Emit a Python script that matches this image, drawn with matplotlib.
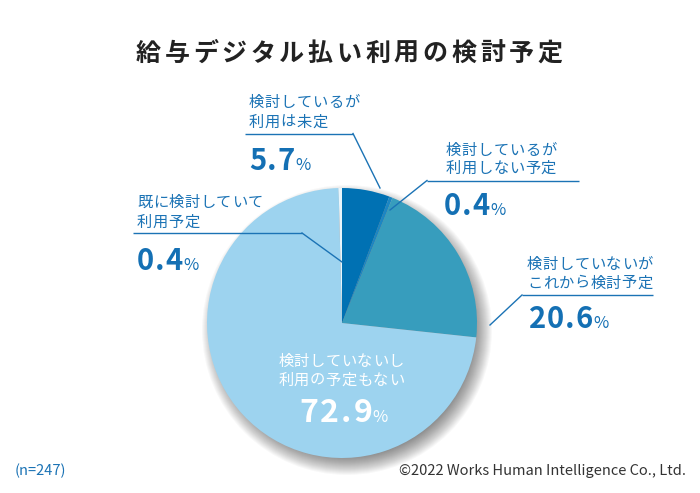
import matplotlib
matplotlib.use("Agg")
import matplotlib.pyplot as plt
from matplotlib.patches import Circle
from matplotlib import font_manager, ft2font

plt.rcParams['font.family'] = ['Noto Sans CJK JP', 'DejaVu Sans']

title = '給与デジタル払い利用の検討予定'
labels = ['検討しているが\n利用は未定', '検討しているが\n利用しない予定',
          '検討していないが\nこれから検討予定', '検討していないし\n利用の予定もない',
          '既に検討していて\n利用予定']
values = [5.7, 0.4, 20.6, 72.9, 0.4]
colors = ['#0071b3', '#1c86c3', '#379dbd', '#9dd3ef', '#e8f5fc']
note = '(n=247)'
credit = '©2022 Works Human Intelligence Co., Ltd.'

W, H = 700, 493
DPI = 100
fig = plt.figure(figsize=(W / DPI, H / DPI), dpi=DPI)
ax = fig.add_axes([0, 0, 1, 1])


def Y(y):
    return H - y


_fonts = {}


def _font(weight):
    if weight not in _fonts:
        path = font_manager.findfont(font_manager.FontProperties(family='Noto Sans CJK JP', weight=weight))
        f = ft2font.FT2Font(path, hinting_factor=1)
        f.set_size(100, 72)
        _fonts[weight] = f
    return _fonts[weight]


def adv_em(ch, weight):
    f = _font(weight)
    try:
        flags = ft2font.LoadFlags.NO_HINTING
    except AttributeError:
        flags = ft2font.LOAD_NO_HINTING
    g = f.load_char(ord(ch), flags=flags)
    r = f.load_char(ord('一'), flags=flags)
    return g.linearHoriAdvance / r.linearHoriAdvance


def str_width(s, size, weight='normal', track=0.0):
    em = size * DPI / 72
    return sum(adv_em(c, weight) * em for c in s) + track * (len(s) - 1)


def tracked(x, yb, s, size, weight='normal', track=0.0, ha='left', **kw):
    em = size * DPI / 72
    w = str_width(s, size, weight, track)
    if ha == 'center':
        x = x - w / 2
    elif ha == 'right':
        x = x - w
    for c in s:
        a = adv_em(c, weight) * em
        ax.text(x + a / 2, Y(yb), c, ha='center', va='baseline', fontsize=size,
                fontweight=weight, **kw)
        x += a + track
    return x - track


cx, cy, R = 342, 323, 135

# soft drop shadow
n = 20
for i in range(n):
    r = R + 10 - i * 1.0
    ax.add_patch(Circle((cx + 5, Y(cy + 7)), r, color='black', alpha=0.026, lw=0, zorder=1))

ax.pie(values, colors=colors, startangle=90, counterclock=False,
       center=(cx, Y(cy)), radius=R, wedgeprops=dict(linewidth=0, zorder=2),
       frame=True)
ax.set_xlim(0, W)
ax.set_ylim(0, H)
ax.set_aspect('equal')
ax.axis('off')

blue = '#1b73b5'
numblue = '#1470b4'
lab_fs = 11
num_fs = 21
pct_fs = 12

tracked(349, 61, title, 18, 'bold', track=3.7, ha='center', color='#222222')


def number(x, yb, val, size, color, track, ha='left', zorder=5):
    s = f'{val}'
    pw = str_width('%', pct_fs)
    if ha == 'center':
        total = str_width(s, size, 'bold', track) + 1 + pw
        x = x - total / 2
    end = tracked(x, yb, s, size, 'bold', track=track, color=color, zorder=zorder)
    tracked(end + 0.5, yb, '%', pct_fs, 'normal', color=color, zorder=zorder)


def callout(idx, tx, baselines, num_x, num_b, hline, diag_end, color=blue):
    for line, yb in zip(labels[idx].split('\n'), baselines):
        tracked(tx, yb, line, lab_fs, 'normal', track=0.5, color=color)
    number(num_x, num_b, values[idx], num_fs, numblue, 0.8)
    (x0, x1, yl) = hline
    ax.plot([x0, x1], [Y(yl), Y(yl)], color=color, lw=1, zorder=4, solid_capstyle='butt')
    xs, ex, ey = diag_end
    ax.plot([xs, ex], [Y(yl), Y(ey)], color=color, lw=1, zorder=4)


callout(0, 249, (107, 127), 249, 170, (245, 353, 133.5), (353, 380, 188))
callout(1, 446, (154.5, 173), 444, 215, (427, 579, 180.5), (427, 390, 210))
callout(4, 137, (207, 226.5), 137, 270, (133, 302, 233), (302, 342, 262))
callout(2, 527, (268.5, 287.5), 529, 328, (522, 653, 295), (522, 490, 325))

for line, yb in zip(labels[3].split('\n'), (366, 384.5)):
    tracked(341, yb, line, lab_fs, 'normal', track=0.5, ha='center', color='white', zorder=5)
number(344, 422, values[3], 23, 'white', 2.0, ha='center')

ax.text(15, Y(475), note, ha='left', va='baseline', fontsize=10.5, color=blue)
ax.text(686, Y(475), credit, ha='right', va='baseline', fontsize=10.5, color='#333333')

fig.savefig('out.png', dpi=DPI)
